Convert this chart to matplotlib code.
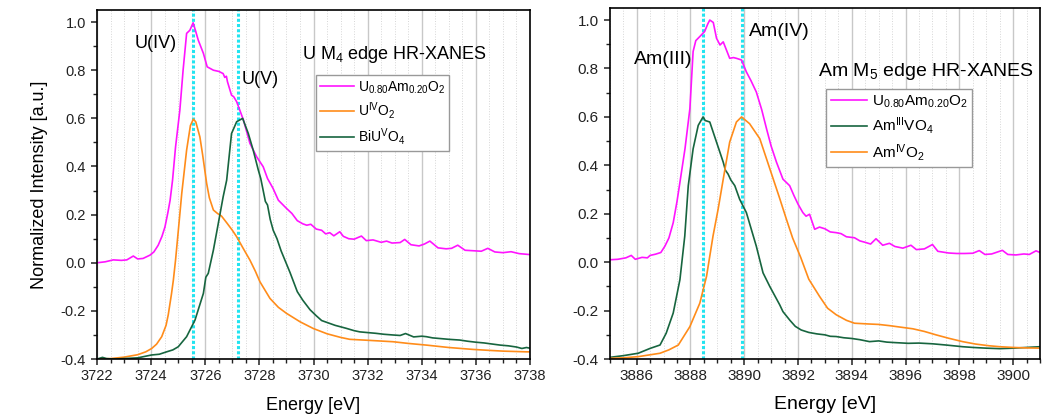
### HR-XANES spectra: U M4 edge (left) and Am M5 edge (right)

import numpy as np
from matplotlib import pyplot as plt
from matplotlib.ticker import MultipleLocator

plt.rcParams.update({'font.family': 'Liberation Sans',
                     'mathtext.fontset': 'custom',
                     'mathtext.rm': 'Liberation Sans',
                     'mathtext.it': 'Liberation Sans:italic',
                     'axes.linewidth': 1.2})

###############################################################################
### data
###############################################################################

# --- U M4 edge ---
u_mix_e = [3722.0, 3722.3, 3722.6, 3722.9, 3723.1, 3723.34, 3723.5, 3723.7, 3723.96, 3724.1,
           3724.26, 3724.4, 3724.51, 3724.62, 3724.7, 3724.79, 3724.9, 3725.06, 3725.18, 3725.31,
           3725.43, 3725.55, 3725.65, 3725.74, 3725.93, 3726.07, 3726.3, 3726.5, 3726.66, 3726.72,
           3726.78, 3726.82, 3726.97, 3727.05, 3727.16, 3727.41, 3727.65, 3727.9, 3728.14, 3728.3,
           3728.5, 3728.7, 3729.0, 3729.2, 3729.4, 3729.6, 3729.75, 3729.9, 3730.1, 3730.3,
           3730.45, 3730.6, 3730.75, 3730.97, 3731.1, 3731.3, 3731.5, 3731.77, 3731.95, 3732.2,
           3732.5, 3732.7, 3732.9, 3733.2, 3733.37, 3733.6, 3733.9, 3734.1, 3734.3, 3734.6,
           3734.9, 3735.1, 3735.33, 3735.6, 3735.9, 3736.2, 3736.44, 3736.7, 3737.0, 3737.3,
           3737.6, 3737.8, 3738.0]
u_mix_i = [0.000, 0.004, 0.012, 0.010, 0.012, 0.028, 0.016, 0.018, 0.032, 0.045,
           0.073, 0.110, 0.149, 0.210, 0.260, 0.343, 0.480, 0.634, 0.800, 0.953,
           0.966, 0.997, 0.960, 0.925, 0.870, 0.814, 0.800, 0.795, 0.786, 0.770,
           0.775, 0.752, 0.696, 0.690, 0.669, 0.593, 0.496, 0.440, 0.399, 0.350,
           0.310, 0.260, 0.226, 0.205, 0.175, 0.162, 0.156, 0.160, 0.140, 0.135,
           0.120, 0.125, 0.112, 0.129, 0.110, 0.100, 0.098, 0.111, 0.092, 0.095,
           0.085, 0.090, 0.082, 0.084, 0.097, 0.075, 0.070, 0.078, 0.090, 0.062,
           0.058, 0.060, 0.073, 0.052, 0.050, 0.048, 0.060, 0.045, 0.042, 0.046,
           0.038, 0.036, 0.034]

uo2_e = [3722.0, 3722.5, 3723.0, 3723.5, 3723.8, 3724.02, 3724.2, 3724.39, 3724.55, 3724.63,
         3724.75, 3724.82, 3724.9, 3724.97, 3725.05, 3725.13, 3725.31, 3725.45, 3725.56, 3725.65,
         3725.8, 3725.9, 3726.05, 3726.15, 3726.3, 3726.45, 3726.6, 3726.8, 3727.0, 3727.16,
         3727.4, 3727.65, 3727.85, 3728.02, 3728.39, 3728.7, 3729.0, 3729.5, 3729.99, 3730.5,
         3731.0, 3731.34, 3732.0, 3732.94, 3733.5, 3734.17, 3735.0, 3735.9, 3736.5, 3737.0,
         3737.87, 3738.0]
uo2_i = [-0.400, -0.398, -0.392, -0.382, -0.370, -0.356, -0.338, -0.307, -0.260, -0.217,
         -0.130, -0.072, 0.010, 0.094, 0.190, 0.288, 0.468, 0.570, 0.597, 0.585,
         0.523, 0.450, 0.330, 0.270, 0.219, 0.205, 0.194, 0.165, 0.135, 0.108,
         0.060, 0.011, -0.035, -0.079, -0.148, -0.185, -0.210, -0.245, -0.273, -0.295,
         -0.310, -0.318, -0.322, -0.328, -0.335, -0.342, -0.352, -0.360, -0.364, -0.367,
         -0.370, -0.370]

biuo4_e = [3722.0, 3722.2, 3722.35, 3722.6, 3723.0, 3723.5, 3724.02, 3724.3, 3724.57, 3724.8,
           3725.0, 3725.31, 3725.62, 3725.93, 3726.02, 3726.11, 3726.3, 3726.48, 3726.66, 3726.79,
           3726.97, 3727.16, 3727.38, 3727.59, 3727.77, 3727.96, 3728.05, 3728.14, 3728.22, 3728.3,
           3728.4, 3728.51, 3728.65, 3728.8, 3729.13, 3729.4, 3729.6, 3729.87, 3730.1, 3730.3,
           3730.6, 3730.8, 3731.0, 3731.2, 3731.5, 3731.71, 3732.0, 3732.3, 3732.6, 3732.94,
           3733.2, 3733.4, 3733.7, 3734.0, 3734.17, 3734.4, 3734.7, 3735.0, 3735.4, 3735.7,
           3736.0, 3736.3, 3736.63, 3736.9, 3737.2, 3737.5, 3737.7, 3737.87, 3738.0]
biuo4_i = [-0.400, -0.393, -0.398, -0.400, -0.398, -0.395, -0.383, -0.380, -0.370, -0.362,
           -0.349, -0.307, -0.238, -0.127, -0.060, -0.044, 0.053, 0.163, 0.274, 0.343,
           0.537, 0.586, 0.600, 0.537, 0.468, 0.385, 0.350, 0.300, 0.255, 0.240,
           0.180, 0.135, 0.100, 0.050, -0.040, -0.120, -0.155, -0.195, -0.220, -0.240,
           -0.252, -0.260, -0.266, -0.272, -0.282, -0.287, -0.290, -0.293, -0.297, -0.300,
           -0.302, -0.294, -0.308, -0.305, -0.307, -0.312, -0.315, -0.318, -0.321, -0.326,
           -0.330, -0.333, -0.338, -0.342, -0.345, -0.350, -0.356, -0.352, -0.355]

# --- Am M5 edge ---
am_mix_e = [3885.0, 3885.3, 3885.6, 3885.8, 3885.95, 3886.2, 3886.4, 3886.5, 3886.7, 3886.9,
            3887.05, 3887.2, 3887.36, 3887.5, 3887.61, 3887.8, 3887.98, 3888.1, 3888.2, 3888.35,
            3888.53, 3888.65, 3888.72, 3888.85, 3888.97, 3889.1, 3889.22, 3889.34, 3889.46, 3889.6,
            3889.71, 3889.82, 3889.9, 3890.08, 3890.25, 3890.45, 3890.65, 3890.83, 3891.0, 3891.2,
            3891.44, 3891.69, 3891.85, 3892.0, 3892.18, 3892.3, 3892.43, 3892.62, 3892.8, 3893.0,
            3893.2, 3893.42, 3893.6, 3893.8, 3894.1, 3894.3, 3894.5, 3894.7, 3894.9, 3895.15,
            3895.4, 3895.6, 3895.9, 3896.2, 3896.4, 3896.7, 3897.0, 3897.2, 3897.6, 3897.9,
            3898.2, 3898.5, 3898.74, 3898.95, 3899.2, 3899.6, 3899.8, 3900.1, 3900.4, 3900.6,
            3900.85, 3901.0]
am_mix_i = [0.010, 0.012, 0.018, 0.028, 0.012, 0.020, 0.018, 0.028, 0.033, 0.040,
            0.066, 0.100, 0.163, 0.250, 0.330, 0.470, 0.634, 0.870, 0.915, 0.932,
            0.953, 0.985, 1.000, 0.990, 0.925, 0.897, 0.910, 0.876, 0.842, 0.845,
            0.842, 0.838, 0.835, 0.786, 0.750, 0.703, 0.630, 0.551, 0.480, 0.413,
            0.343, 0.316, 0.275, 0.240, 0.205, 0.190, 0.198, 0.136, 0.145, 0.138,
            0.125, 0.122, 0.118, 0.105, 0.101, 0.088, 0.082, 0.075, 0.097, 0.070,
            0.078, 0.065, 0.058, 0.070, 0.052, 0.055, 0.073, 0.045, 0.038, 0.036,
            0.036, 0.037, 0.048, 0.032, 0.034, 0.049, 0.032, 0.030, 0.034, 0.032,
            0.047, 0.040]

amvo4_e = [3885.0, 3885.5, 3886.06, 3886.5, 3886.87, 3887.1, 3887.36, 3887.61, 3887.79, 3887.92,
           3888.1, 3888.29, 3888.47, 3888.55, 3888.72, 3888.97, 3889.22, 3889.3, 3889.4, 3889.5,
           3889.65, 3889.83, 3890.08, 3890.45, 3890.7, 3890.95, 3891.32, 3891.44, 3891.7, 3891.9,
           3892.12, 3892.4, 3892.7, 3893.0, 3893.2, 3893.42, 3893.7, 3894.0, 3894.3, 3894.66,
           3895.0, 3895.3, 3895.6, 3896.1, 3896.5, 3897.0, 3897.5, 3898.12, 3898.5, 3899.0,
           3899.5, 3900.0, 3900.5, 3901.0]
amvo4_i = [-0.393, -0.386, -0.376, -0.356, -0.342, -0.293, -0.210, -0.072, 0.108, 0.316,
           0.468, 0.565, 0.600, 0.585, 0.579, 0.496, 0.413, 0.380, 0.364, 0.340,
           0.316, 0.260, 0.205, 0.066, -0.044, -0.100, -0.176, -0.204, -0.240, -0.265,
           -0.280, -0.290, -0.296, -0.300, -0.306, -0.307, -0.312, -0.315, -0.320, -0.328,
           -0.325, -0.330, -0.332, -0.335, -0.334, -0.337, -0.342, -0.349, -0.352, -0.355,
           -0.357, -0.355, -0.352, -0.349]

amo2_e = [3885.0, 3885.5, 3886.06, 3886.87, 3887.2, 3887.55, 3887.98, 3888.35, 3888.6, 3888.84,
          3889.03, 3889.22, 3889.46, 3889.71, 3889.9, 3890.2, 3890.58, 3891.0, 3891.3, 3891.57,
          3891.8, 3892.1, 3892.4, 3892.8, 3893.1, 3893.42, 3893.8, 3894.1, 3894.6, 3895.0,
          3895.4, 3895.8, 3896.27, 3896.7, 3897.13, 3897.6, 3898.12, 3898.6, 3899.1, 3899.5,
          3900.0, 3900.5, 3901.0]
amo2_i = [-0.397, -0.395, -0.390, -0.376, -0.362, -0.342, -0.266, -0.169, -0.058, 0.108,
          0.219, 0.343, 0.496, 0.579, 0.600, 0.572, 0.510, 0.370, 0.270, 0.177,
          0.100, 0.020, -0.070, -0.141, -0.190, -0.217, -0.240, -0.252, -0.255, -0.257,
          -0.262, -0.268, -0.275, -0.286, -0.300, -0.314, -0.328, -0.338, -0.345, -0.349,
          -0.352, -0.354, -0.355]

u_edges = [3725.55, 3727.2]     # U(IV), U(V)
am_edges = [3888.45, 3889.9]    # Am(III), Am(IV)

magenta = '#ff14ff'
orange = '#ff8c1a'
green = '#17653f'
cyan = '#22e4f0'

###############################################################################
### axes styling
###############################################################################

def style(ax, xlim, tick_size):
    ax.set_xlim(*xlim)
    ax.set_ylim(-0.4, 1.05)
    ax.xaxis.set_major_locator(MultipleLocator(2))
    ax.xaxis.set_minor_locator(MultipleLocator(0.5))
    ax.yaxis.set_major_locator(MultipleLocator(0.2))
    ax.yaxis.set_minor_locator(MultipleLocator(0.1))
    ax.tick_params(which='major', direction='out', length=4.5, width=1.1,
                   labelsize=tick_size, colors='#222222')
    ax.tick_params(which='minor', direction='out', length=3, width=1.0, colors='#222222')
    ax.tick_params(axis='x', which='major', pad=3)
    ax.grid(True, which='major', axis='x', color='#c8c8c8', lw=1.0, ls='-')
    ax.grid(True, which='minor', axis='x', color='#d6d6d6', lw=0.7, ls=':')
    ax.set_axisbelow(True)
    ax.yaxis.set_major_formatter(plt.FuncFormatter(lambda v, p: '%.1f' % v))


fig = plt.figure(figsize=(10.56, 4.18), dpi=100)
ax1 = fig.add_axes([0.0919, 0.141, 0.410, 0.835])
ax2 = fig.add_axes([0.5774, 0.141, 0.4075, 0.840])

###############################################################################
### left: U M4 edge
###############################################################################

style(ax1, (3722, 3738), 10.5)
for e in u_edges:
    ax1.axvline(e, color=cyan, lw=2.2, ls=(0, (1, 0.7)), zorder=1)
ax1.plot(u_mix_e, u_mix_i, color=magenta, lw=1.2,
         label=r'$\mathregular{U_{0.80}Am_{0.20}O_2}$')
ax1.plot(uo2_e, uo2_i, color=orange, lw=1.2, label=r'$\mathregular{U^{IV}O_2}$')
ax1.plot(biuo4_e, biuo4_i, color=green, lw=1.2, label=r'$\mathregular{BiU^{V}O_4}$')

ax1.set_xlabel('Energy [eV]', fontsize=13, labelpad=10)
ax1.set_ylabel('Normalized Intensity [a.u.]', fontsize=13, labelpad=9)
ax1.text(0.136, 0.905, 'U(IV)', transform=ax1.transAxes, fontsize=13,
         ha='center', va='center')
ax1.text(0.376, 0.80, 'U(V)', transform=ax1.transAxes, fontsize=13,
         ha='center', va='center')
ax1.text(0.473, 0.874, r'U M$_\mathregular{4}$ edge HR-XANES', transform=ax1.transAxes,
         fontsize=13, ha='left', va='center')
leg = ax1.legend(loc='upper left', bbox_to_anchor=(0.506, 0.814), fontsize=10,
                 fancybox=False, edgecolor='#999999', framealpha=1,
                 handlelength=2.4, handletextpad=0.3, borderpad=0.3, labelspacing=0.35,
                 borderaxespad=0)
leg.get_frame().set_linewidth(1.0)

###############################################################################
### right: Am M5 edge
###############################################################################

style(ax2, (3885, 3901), 11)
for e in am_edges:
    ax2.axvline(e, color=cyan, lw=2.2, ls=(0, (1, 0.7)), zorder=1)
ax2.plot(am_mix_e, am_mix_i, color=magenta, lw=1.2,
         label=r'$\mathregular{U_{0.80}Am_{0.20}O_2}$')
ax2.plot(amvo4_e, amvo4_i, color=green, lw=1.2, label=r'$\mathregular{Am^{III}VO_4}$')
ax2.plot(amo2_e, amo2_i, color=orange, lw=1.2, label=r'$\mathregular{Am^{IV}O_2}$')

ax2.set_xlabel('Energy [eV]', fontsize=14, labelpad=9)
ax2.text(0.124, 0.852, 'Am(III)', transform=ax2.transAxes, fontsize=14,
         ha='center', va='center')
ax2.text(0.395, 0.932, 'Am(IV)', transform=ax2.transAxes, fontsize=14,
         ha='center', va='center')
ax2.text(0.484, 0.818, r'Am M$_\mathregular{5}$ edge HR-XANES', transform=ax2.transAxes,
         fontsize=14, ha='left', va='center')
leg = ax2.legend(loc='upper left', bbox_to_anchor=(0.503, 0.769), fontsize=11,
                 fancybox=False, edgecolor='#999999', framealpha=1,
                 handlelength=2.4, handletextpad=0.3, borderpad=0.3, labelspacing=0.35,
                 borderaxespad=0)
leg.get_frame().set_linewidth(1.0)

plt.savefig('out.png', dpi=100)
